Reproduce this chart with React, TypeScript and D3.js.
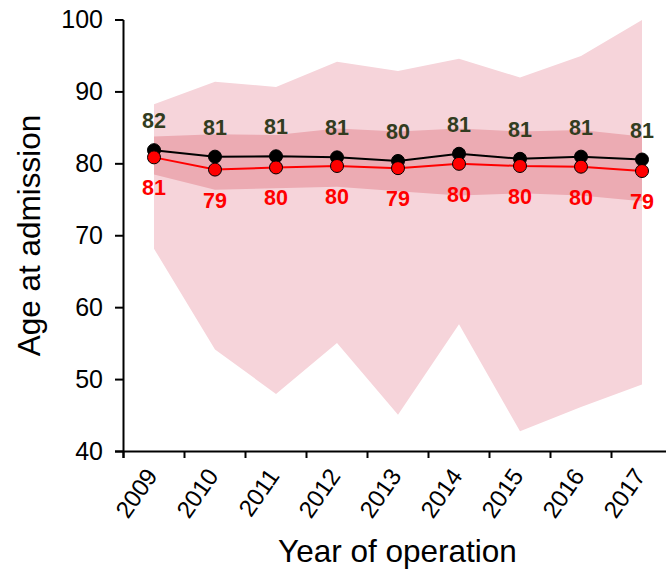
import React from "react";
import * as d3 from "d3";

const years = ["2009", "2010", "2011", "2012", "2013", "2014", "2015", "2016", "2017"];
const blackMean = [81.9, 81.0, 81.05, 80.9, 80.4, 81.4, 80.7, 81.0, 80.6];
const redMean = [80.9, 79.2, 79.5, 79.7, 79.4, 80.0, 79.7, 79.6, 79.0];
const blackLabels = ["82", "81", "81", "81", "80", "81", "81", "81", "81"];
const redLabels = ["81", "79", "80", "80", "79", "80", "80", "80", "79"];
const darkTop = [83.8, 84.1, 84.0, 84.9, 84.5, 84.9, 84.5, 84.7, 83.8];
const darkBottom = [78.5, 76.4, 76.6, 76.8, 76.2, 75.6, 75.9, 75.6, 74.8];
const lightTop = [88.3, 91.4, 90.7, 94.2, 92.9, 94.6, 92.0, 95.0, 100.0];
const lightBottom = [68.2, 54.2, 48.0, 55.1, 45.1, 57.7, 42.8, 46.2, 49.3];
const yTicks = [40, 50, 60, 70, 80, 90, 100];

const W = 666;
const H = 569;
const FONT = "'Liberation Sans', Arial, sans-serif";

export default function App() {
  const x = d3.scaleBand<string>().domain(years).range([123.5, 672.5]).padding(0);
  const y = d3.scaleLinear().domain([40, 100]).range([451.5, 20]);
  const cx = (i: number) => (x(years[i]) as number) + x.bandwidth() / 2;

  const areaGen = (top: number[], bottom: number[]) =>
    d3
      .area<number>()
      .x((_, i) => cx(i))
      .y0((_, i) => y(bottom[i]))
      .y1((_, i) => y(top[i]))(top.map((_, i) => i)) as string;

  const lineGen = (vals: number[]) =>
    d3
      .line<number>()
      .x((_, i) => cx(i))
      .y((d) => y(d))(vals) as string;

  const boundaries = years.map((yr) => x(yr) as number);

  return (
    <svg
      width={W}
      height={H}
      style={{ position: "absolute", left: 0, top: 0, background: "#fff" }}
      fontFamily={FONT}
    >
      <path d={areaGen(lightTop, lightBottom)} fill="#F6D4DA" />
      <path d={areaGen(darkTop, darkBottom)} fill="#ECABB3" />

      {/* axes */}
      <line x1={123.5} x2={123.5} y1={20} y2={458} stroke="#000" strokeWidth={2} />
      <line x1={115} x2={W} y1={451.5} y2={451.5} stroke="#000" strokeWidth={2} />
      {yTicks.map((t) => (
        <g key={t}>
          <line x1={115} x2={123.5} y1={y(t)} y2={y(t)} stroke="#000" strokeWidth={2} />
          <text x={103} y={y(t)} dy="0.32em" textAnchor="end" fontSize={25} fill="#000">
            {t}
          </text>
        </g>
      ))}
      {boundaries.map((b, i) => (
        <line key={i} x1={b} x2={b} y1={451.5} y2={458} stroke="#000" strokeWidth={2} />
      ))}
      {years.map((yr, i) => (
        <text
          key={yr}
          transform={`translate(${cx(i) + 4.5},${476}) rotate(-55)`}
          textAnchor="end"
          fontSize={24}
          fill="#000"
        >
          {yr}
        </text>
      ))}

      {/* series */}
      <path d={lineGen(blackMean)} fill="none" stroke="#000" strokeWidth={2} />
      {blackMean.map((v, i) => (
        <circle key={i} cx={cx(i)} cy={y(v)} r={6.5} fill="#000" stroke="#000" strokeWidth={1} />
      ))}
      <path d={lineGen(redMean)} fill="none" stroke="#FF0000" strokeWidth={2} />
      {redMean.map((v, i) => (
        <circle key={i} cx={cx(i)} cy={y(v)} r={6.5} fill="#FF0000" stroke="#000" strokeWidth={1} />
      ))}

      {blackMean.map((v, i) => (
        <text
          key={i}
          x={cx(i)}
          y={y(v) - 22}
          textAnchor="middle"
          fontSize={21.5}
          fontWeight="bold"
          fill="#323C20"
        >
          {blackLabels[i]}
        </text>
      ))}
      {redMean.map((v, i) => (
        <text
          key={i}
          x={cx(i)}
          y={y(v) + 38}
          textAnchor="middle"
          fontSize={21.5}
          fontWeight="bold"
          fill="#FF0000"
        >
          {redLabels[i]}
        </text>
      ))}

      {/* axis titles */}
      <text x={397.5} y={562} textAnchor="middle" fontSize={31.5} fill="#000">
        Year of operation
      </text>
      <text
        transform={`translate(${40},${235.5}) rotate(-90)`}
        textAnchor="middle"
        fontSize={31.5}
        fill="#000"
      >
        Age at admission
      </text>
    </svg>
  );
}
